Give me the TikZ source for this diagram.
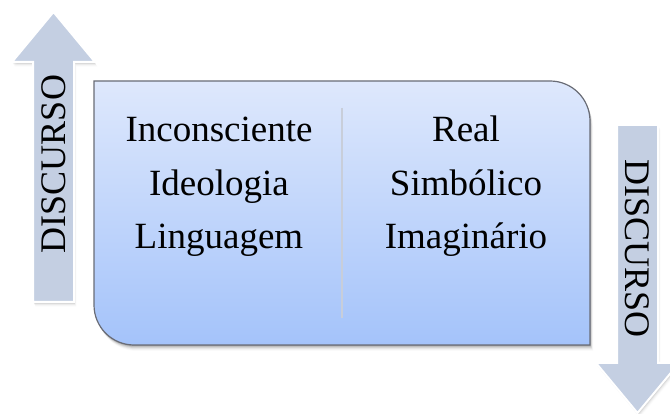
\documentclass[tikz,border=0pt]{standalone}
\usepackage{fontspec}
\setmainfont{Liberation Serif}
\usetikzlibrary{calc}
\definecolor{boxtop}{RGB}{222,232,252}
\definecolor{boxbot}{RGB}{164,195,250}
\definecolor{boxline}{RGB}{105,108,118}
\definecolor{arrowfill}{RGB}{196,207,226}
\definecolor{divline}{RGB}{200,206,218}
\tikzset{
  word/.style={font=\fontsize{37}{44}\selectfont, inner sep=0pt, anchor=base},
  arrowword/.style={font=\fontsize{36}{40}\selectfont, inner sep=0pt},
  arrowbody/.style={fill=arrowfill, draw=white, line width=2pt, line join=miter},
}
\newcommand{\boxpath}[2]{(94+#1,333+#2) -- ++(456,0) arc[start angle=90,end angle=0,radius=40] -- ++(0,-224) -- ++(-456,0) arc[start angle=270,end angle=180,radius=40] -- cycle}
\newcommand{\uparrowpath}[2]{(33+#1,112+#2) -- ++(0,240) -- ++(-21,0) -- ++(41.5,50) -- ++(41.5,-50) -- ++(-21,0) -- ++(0,-240) -- cycle}
\newcommand{\downarrowpath}[2]{(617+#1,289+#2) -- ++(0,-238) -- ++(-21,0) -- ++(41.5,-50) -- ++(41.5,50) -- ++(-21,0) -- ++(0,238) -- cycle}
\begin{document}
\begin{tikzpicture}[x=1pt,y=1pt]
\useasboundingbox (0,0) rectangle (670,414);
\clip (0,0) rectangle (670,414);
\fill[white] (0,0) rectangle (670,414);
% shadows
\foreach \d/\o in {1/0.14,2/0.10,3/0.07,4/0.05,5/0.03,6/0.02}{
  \fill[black,opacity=\o] \boxpath{\d*0.5}{-\d};
  \fill[black,opacity=0.6*\o] \uparrowpath{\d*0.4}{-\d*0.8};
  \fill[black,opacity=0.6*\o] \downarrowpath{\d*0.4}{-\d*0.8};
}
% box
\shade[top color=boxtop, bottom color=boxbot] \boxpath{0}{0};
\draw[boxline, line width=1.2pt] \boxpath{0}{0};
% divider
\coordinate (dtop) at (342,306);
\coordinate (dbot) at (342,96);
\draw[divline, line width=1.6pt] (dtop) -- (dbot);
% texts
\node[word] (inc) at (219,272) {Inconsciente};
\node[word] (ide) at (219,218.5) {Ideologia};
\node[word] (lin) at (219,165) {Linguagem};
\node[word] (rea) at (466,272) {Real};
\node[word] (sim) at (466,218.5) {Simbólico};
\node[word] (ima) at (466,165) {Imaginário};
% arrows
\draw[arrowbody] \uparrowpath{0}{0};
\draw[arrowbody] \downarrowpath{0}{0};
\node[arrowword, rotate=90] (dl) at (53.5,250) {DISCURSO};
\node[arrowword, rotate=-90] (dr) at (637.5,165) {DISCURSO};
\end{tikzpicture}
\end{document}
